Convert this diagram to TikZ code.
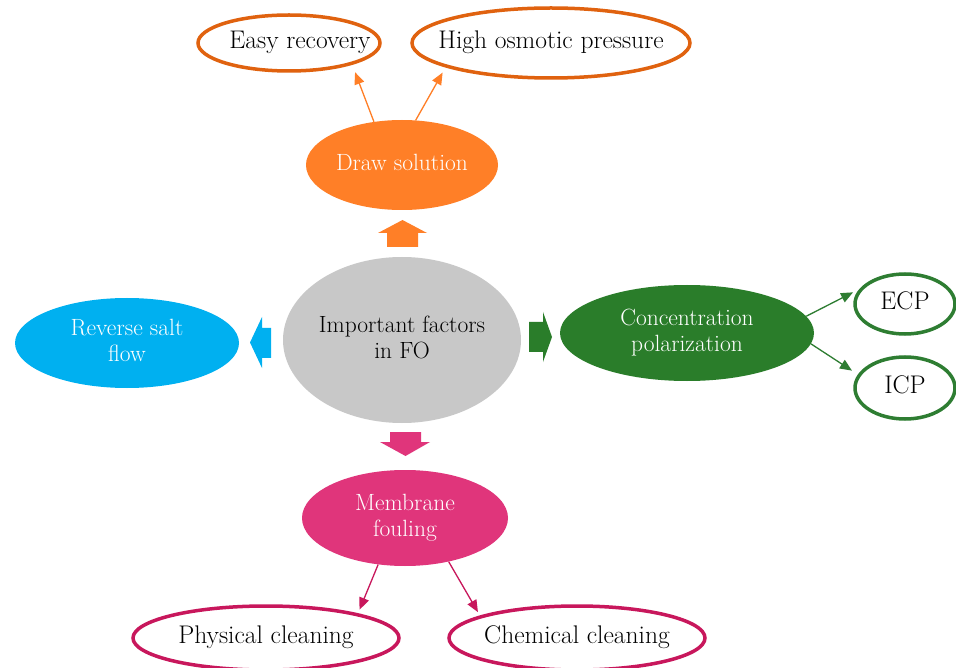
\documentclass[tikz,border=0pt]{standalone}
\usepackage{fontspec}
\setmainfont{Latin Modern Roman}
\usetikzlibrary{shapes.geometric,arrows.meta}
\definecolor{orfill}{HTML}{FF7F27}
\definecolor{orline}{HTML}{E0620F}
\definecolor{blfill}{HTML}{00B0F0}
\definecolor{gyfill}{HTML}{C8C8C8}
\definecolor{grfill}{HTML}{2A7D2A}
\definecolor{grline}{HTML}{2E7D32}
\definecolor{pkfill}{HTML}{E0357B}
\definecolor{pkline}{HTML}{C8175C}
\newcommand\zwtext[1]{\makebox[0pt]{\begin{tabular}{@{}c@{}}#1\end{tabular}}}
\begin{document}
\begin{tikzpicture}[x=1pt,y=-1pt,
  filled/.style={ellipse,inner sep=0pt,text=white,font=\fontsize{23.5}{26}\selectfont},
  outl/.style={ellipse,inner sep=0pt,fill=white,line width=3.5pt,font=\fontsize{25.5}{28}\selectfont},
  thin/.style={line width=1.3pt,-{Triangle[length=12pt,width=10pt]}}
]
\useasboundingbox[fill=white] (0,0) rectangle (956,668);
% central
\node[filled,fill=gyfill,text=black,minimum width=238pt,minimum height=166pt] (c) at (402,340) {\zwtext{Important factors\\in FO}};
% draw solution
\node[filled,fill=orfill,minimum width=192pt,minimum height=90pt] (ds) at (402,165) {\zwtext{Draw solution}};
\node[outl,draw=orline,minimum width=182pt,minimum height=56pt] (er) at (289,43) {\zwtext{\hspace*{22pt}Easy recovery}};
\node[outl,draw=orline,minimum width=278pt,minimum height=70pt] (hp) at (551,43) {\zwtext{High osmotic pressure}};
% reverse salt
\node[filled,fill=blfill,minimum width=224pt,minimum height=90pt] (rs) at (127,343) {\zwtext{Reverse salt\\flow}};
% concentration polarization
\node[filled,fill=grfill,minimum width=254pt,minimum height=96pt] (cp) at (687,333) {\zwtext{Concentration\\polarization}};
\node[outl,draw=grline,minimum width=100pt,minimum height=60pt] (ecp) at (905,304) {\zwtext{ECP}};
\node[outl,draw=grline,minimum width=100pt,minimum height=62pt] (icp) at (905,388) {\zwtext{ICP}};
% membrane fouling
\node[filled,fill=pkfill,minimum width=206pt,minimum height=96pt] (mf) at (405,518) {\zwtext{Membrane\\fouling}};
\node[outl,draw=pkline,minimum width=266pt,minimum height=64pt] (pc) at (266,638) {\zwtext{Physical cleaning}};
\node[outl,draw=pkline,minimum width=256pt,minimum height=64pt] (cc) at (577,638) {\zwtext{Chemical cleaning}};
% block arrows
\fill[orfill] (387,247) -- (387,233) -- (378,233) -- (402.5,220) -- (427,233) -- (418,233) -- (418,247) -- cycle;
\fill[blfill] (271,328) -- (262,328) -- (262,317) -- (250,342.5) -- (262,368) -- (262,358) -- (271,358) -- cycle;
\fill[grfill] (529,322) -- (543,322) -- (543,312) -- (552,337) -- (543,362) -- (543,352) -- (529,352) -- cycle;
\fill[pkfill] (390,432) -- (421,432) -- (421,442) -- (430,442) -- (405.5,456) -- (380,442) -- (390,442) -- cycle;
% thin arrows
\draw[thin,draw=orfill,fill=orfill,shorten >=8pt] (ds.123) -- (er.-19);
\draw[thin,draw=orfill,fill=orfill,shorten >=6pt] (ds.73) -- (hp.-167.5);
\draw[thin,draw=grline,fill=grline,shorten >=7pt] (cp.8) -- (ecp.162);
\draw[thin,draw=grline,fill=grline,shorten >=7pt] (cp.-5) -- (icp.164);
\draw[thin,draw=pkline,fill=pkline,shorten >=4pt] (mf.240) -- (pc.15);
\draw[thin,draw=pkline,fill=pkline,shorten >=4pt] (mf.-45) -- (cc.167);
\end{tikzpicture}
\end{document}
